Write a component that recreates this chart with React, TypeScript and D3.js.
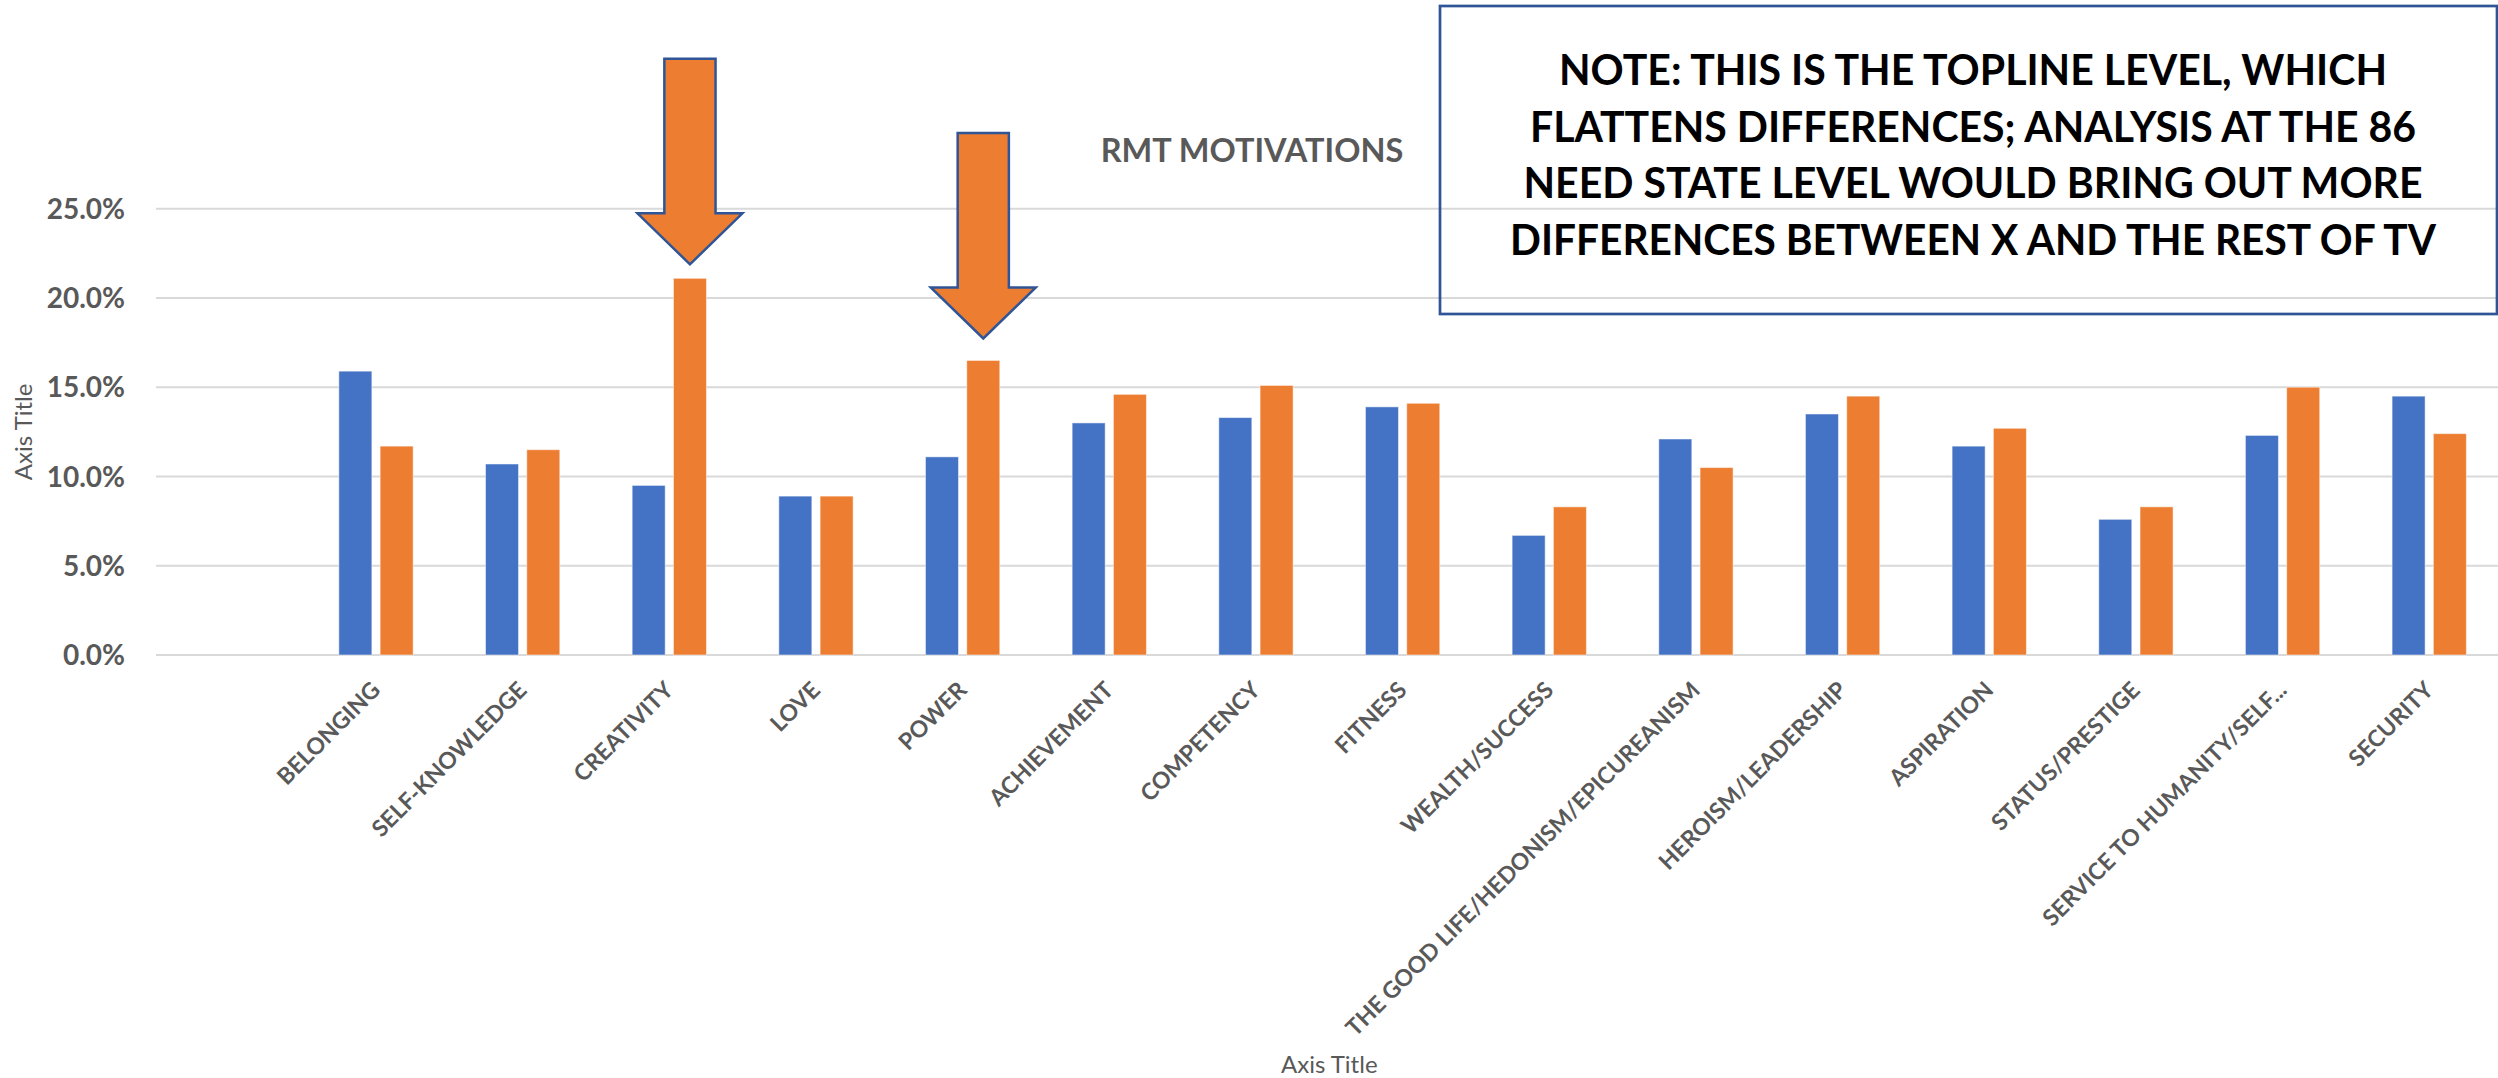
import React from "react";
import * as d3 from "d3";

const categories = [
  "",
  "BELONGING",
  "SELF-KNOWLEDGE",
  "CREATIVITY",
  "LOVE",
  "POWER",
  "ACHIEVEMENT",
  "COMPETENCY",
  "FITNESS",
  "WEALTH/SUCCESS",
  "THE GOOD LIFE/HEDONISM/EPICUREANISM",
  "HEROISM/LEADERSHIP",
  "ASPIRATION",
  "STATUS/PRESTIGE",
  "SERVICE TO HUMANITY/SELF...",
  "SECURITY",
];

const seriesBlue: (number | null)[] = [null, 15.9, 10.7, 9.5, 8.9, 11.1, 13.0, 13.3, 13.9, 6.7, 12.1, 13.5, 11.7, 7.6, 12.3, 14.5];
const seriesOrange: (number | null)[] = [null, 11.7, 11.5, 21.1, 8.9, 16.5, 14.6, 15.1, 14.1, 8.3, 10.5, 14.5, 12.7, 8.3, 15.0, 12.4];

const yTicks = [0, 5, 10, 15, 20, 25];

const arrowTargets = ["CREATIVITY", "POWER"];
const arrowGaps = [14, 22];

const title = "RMT MOTIVATIONS";
const noteLines = [
  "NOTE: THIS IS THE TOPLINE LEVEL, WHICH",
  "FLATTENS DIFFERENCES; ANALYSIS AT THE 86",
  "NEED STATE LEVEL WOULD BRING OUT MORE",
  "DIFFERENCES BETWEEN X AND THE REST OF TV",
];
const noteLineWidths = [828, 886, 899, 926];

const W = 2498;
const H = 1078;
const FONT = "Lato, 'Open Sans', sans-serif";
const GRAY = "#595959";
const BLUE = "#4472C4";
const ORANGE = "#ED7D31";
const DARKBLUE = "#2F5597";

export default function App() {
  const plotLeft = 156;
  const band = 146.66;
  const x = d3
    .scaleBand<string>()
    .domain(categories)
    .range([plotLeft, plotLeft + band * categories.length])
    .padding(0);
  const x1 = d3.scaleBand<string>().domain(["blue", "orange"]).range([-37.15, 37.15]).paddingInner(0.2);
  const y = d3.scaleLinear().domain([0, 25]).range([655, 208.7]);
  const cx = (c: string) => (x(c) as number) + x.bandwidth() / 2;

  const series = [
    { key: "blue", values: seriesBlue, color: BLUE },
    { key: "orange", values: seriesOrange, color: ORANGE },
  ];

  const arrowPath = (tx: number, ty: number) => {
    const sh = 25.6, hh = 52.5, hl = 51, tl = 205.5;
    const p = d3.path();
    p.moveTo(tx - sh, ty - tl);
    p.lineTo(tx + sh, ty - tl);
    p.lineTo(tx + sh, ty - hl);
    p.lineTo(tx + hh, ty - hl);
    p.lineTo(tx, ty);
    p.lineTo(tx - hh, ty - hl);
    p.lineTo(tx - sh, ty - hl);
    p.closePath();
    return p.toString();
  };

  return (
    <svg
      width={W}
      height={H}
      viewBox={`0 0 ${W} ${H}`}
      style={{ position: "absolute", left: 0, top: 0, background: "#fff", fontFamily: FONT }}
    >
      <rect x={0} y={0} width={W} height={H} fill="#fff" />
      {/* gridlines */}
      {yTicks.map((t) => (
        <line key={"g" + t} x1={plotLeft} x2={W} y1={y(t)} y2={y(t)} stroke="#d9d9d9" strokeWidth={2} />
      ))}
      {/* y tick labels */}
      {yTicks.map((t) => (
        <text
          key={"yl" + t}
          x={125}
          y={y(t)}
          dy="0.36em"
          textAnchor="end"
          fontSize={28}
          fontWeight={700}
          fill={GRAY}
        >
          {d3.format(".1f")(t) + "%"}
        </text>
      ))}
      {/* bars */}
      {series.map((s) =>
        categories.map((c, i) => {
          const v = s.values[i];
          if (v == null) return null;
          const bx = cx(c) + (x1(s.key) as number);
          return (
            <rect
              key={s.key + i}
              x={bx}
              y={y(v)}
              width={x1.bandwidth()}
              height={y(0) - y(v)}
              fill={s.color}
              stroke="#ffffff"
              strokeOpacity={0.5}
              strokeWidth={1}
            />
          );
        })
      )}
      {/* x tick labels */}
      {categories.map((c) =>
        c ? (
          <text
            key={"xl" + c}
            transform={`translate(${cx(c)},${686}) rotate(-45)`}
            textAnchor="end"
            dy="0.34em"
            fontSize={23}
            fontWeight={700}
            fill={GRAY}
          >
            {c}
          </text>
        ) : null
      )}
      {/* axis titles */}
      <text x={(plotLeft + x.range()[1]) / 2} y={1072.7} textAnchor="middle" fontSize={24} fill={GRAY}>
        Axis Title
      </text>
      <text transform={`translate(32,${(y(0) + y(25)) / 2}) rotate(-90)`} textAnchor="middle" fontSize={24} fill={GRAY}>
        Axis Title
      </text>
      {/* chart title */}
      <text x={1252} y={162.3} textAnchor="middle" fontSize={32.5} fontWeight={700} fill={GRAY}>
        {title}
      </text>
      {/* arrows */}
      {arrowTargets.map((c, i) => {
        const idx = categories.indexOf(c);
        const v = seriesOrange[idx] as number;
        const tx = cx(c) + (x1("orange") as number) + x1.bandwidth() / 2;
        const ty = y(v) - arrowGaps[i];
        return (
          <path key={"a" + c} d={arrowPath(tx, ty)} fill={ORANGE} stroke={DARKBLUE} strokeWidth={2.5} strokeLinejoin="miter" />
        );
      })}
      {/* note box */}
      <rect x={1440} y={6} width={1057} height={308} fill="none" stroke={DARKBLUE} strokeWidth={2.7} />
      {noteLines.map((l, i) => (
        <text
          key={"n" + i}
          x={1973}
          y={85 + i * 56.7}
          textAnchor="middle"
          fontSize={42}
          fontWeight={700}
          fill="#000"
          textLength={noteLineWidths[i]}
          lengthAdjust="spacingAndGlyphs"
        >
          {l}
        </text>
      ))}
    </svg>
  );
}
